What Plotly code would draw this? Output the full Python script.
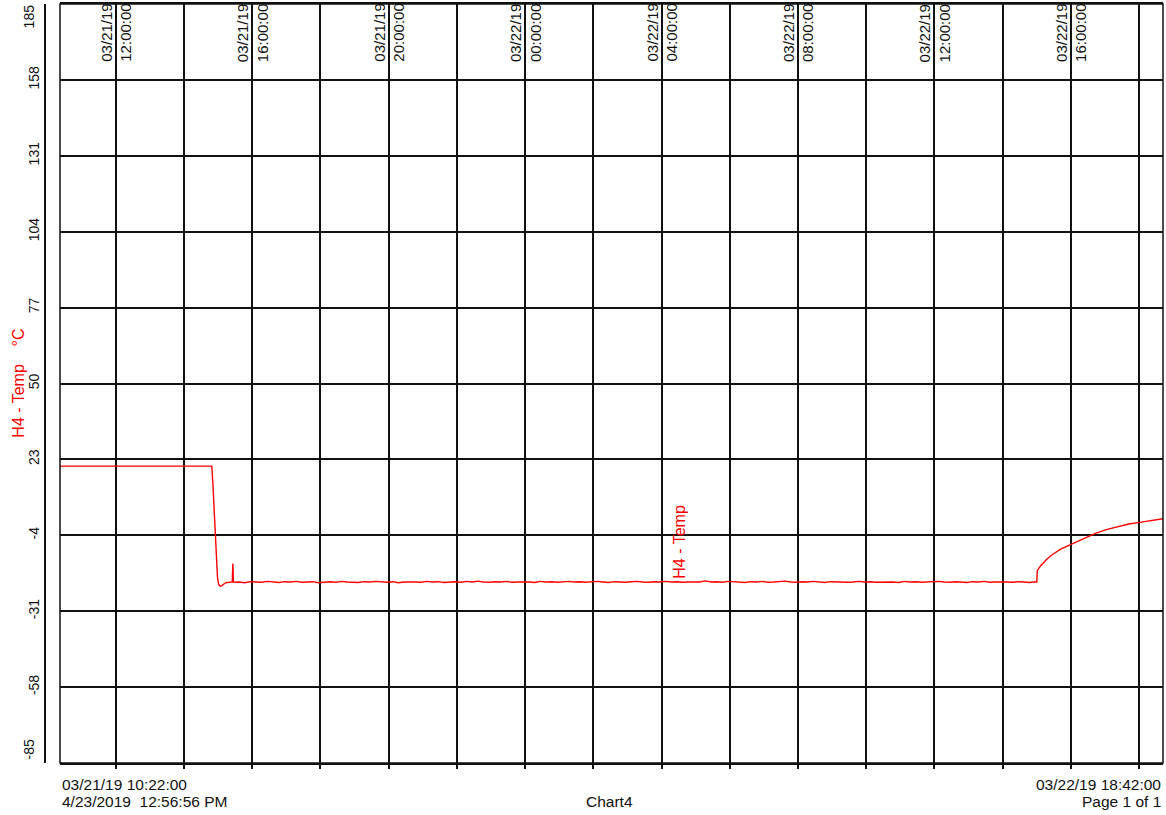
import pandas as pd
import plotly.graph_objects as go

# logger start / end of the chart window
start = pd.Timestamp("2019-03-21 10:22:00")
end = pd.Timestamp("2019-03-22 18:42:00")

# readings: minutes after start, temperature in degC
minutes_warm = [0, 60, 120, 180, 240, 267]
temps_warm = [20.6, 20.6, 20.5, 20.6, 20.6, 20.6]

minutes_drop = [269, 271, 273, 275, 277, 279, 282, 285, 288, 291, 295, 299, 302, 303, 304, 305, 308]
temps_drop = [14.0, 5.0, -6.0, -14.0, -19.0, -21.5, -22.1, -21.9, -21.3, -20.9, -20.8, -20.7,
              -20.7, -20.6, -14.0, -20.6, -20.7]

minutes_cold = [315, 325, 335, 345, 355, 365, 375, 385, 395, 405, 415, 425, 435, 445, 455,
                465, 475, 485, 495, 505, 515, 525, 535, 545, 555, 565, 575, 585, 595, 605,
                615, 625, 635, 645, 655, 665, 675, 685, 695, 705, 715, 725, 735, 745, 755,
                765, 775, 785, 795, 805, 815, 825, 835, 845, 855, 865, 875, 885, 895, 905,
                915, 925, 935, 945, 955, 965, 975, 985, 995, 1005, 1015, 1025, 1035, 1045, 1055,
                1065, 1075, 1085, 1095, 1105, 1115, 1125, 1135, 1145, 1155, 1165, 1175, 1185, 1195, 1205,
                1215, 1225, 1235, 1245, 1255, 1265, 1275, 1285, 1295, 1305, 1315, 1325, 1335, 1345, 1355,
                1365, 1375, 1385, 1395, 1405, 1415, 1425, 1435, 1445, 1455, 1465, 1475, 1485, 1495, 1505,
                1515, 1525, 1535, 1545, 1555, 1565, 1575, 1585, 1595, 1605, 1615, 1625, 1635, 1645, 1655,
                1665, 1675, 1685, 1695, 1705, 1712, 1718]
temps_cold = [-20.6, -20.9, -20.5, -20.6, -20.7, -20.4, -20.6, -20.8, -20.5, -20.6, -20.4, -20.7, -20.6, -20.5, -20.9,
              -20.6, -20.5, -20.7, -20.4, -20.6, -20.6, -20.8, -20.5, -20.6, -20.4, -20.6, -20.7, -20.5, -20.9, -20.6,
              -20.5, -20.6, -20.7, -20.4, -20.6, -20.5, -20.8, -20.6, -20.5, -20.7, -20.4, -20.6, -20.3, -20.6, -20.7,
              -20.5, -20.6, -20.4, -20.7, -20.6, -20.5, -20.6, -20.8, -20.4, -20.6, -20.5, -20.7, -20.6, -20.4, -20.6,
              -20.5, -20.7, -20.6, -20.4, -20.6, -20.8, -20.5, -20.6, -20.7, -20.5, -20.4, -20.6, -20.7, -20.5, -20.6,
              -20.4, -20.6, -20.5, -20.7, -20.6, -20.5, -20.6, -20.2, -20.6, -20.5, -20.7, -20.4, -20.6, -20.6, -20.8,
              -20.5, -20.6, -20.4, -20.7, -20.6, -20.5, -20.3, -20.6, -20.7, -20.5, -20.6, -20.4, -20.6, -20.8, -20.5,
              -20.6, -20.5, -20.7, -20.6, -20.4, -20.6, -20.5, -20.7, -20.6, -20.5, -20.6, -20.8, -20.4, -20.6, -20.5,
              -20.7, -20.6, -20.5, -20.4, -20.6, -20.7, -20.5, -20.6, -20.8, -20.5, -20.6, -20.4, -20.7, -20.6, -20.5,
              -20.6, -20.7, -20.5, -20.6, -20.8, -20.6, -20.6]

minutes_thaw = [1719, 1725, 1735, 1745, 1760, 1778, 1800, 1820, 1840, 1860, 1880, 1896, 1910, 1925, 1940]
temps_thaw = [-16.5, -14.8, -12.6, -10.9, -8.9, -7.2, -5.2, -3.4, -2.0, -1.0, 0.0, 0.5, 0.9, 1.4, 1.9]

y_ticks = [-85, -58, -31, -4, 23, 50, 77, 104, 131, 158, 185]
top_label_times = ["2019-03-21 12:00", "2019-03-21 16:00", "2019-03-21 20:00", "2019-03-22 00:00",
                   "2019-03-22 04:00", "2019-03-22 08:00", "2019-03-22 12:00", "2019-03-22 16:00"]

minutes = minutes_warm + minutes_drop + minutes_cold + minutes_thaw
temps = temps_warm + temps_drop + temps_cold + temps_thaw
times = start + pd.to_timedelta(minutes, unit="m")

FONT = "Liberation Sans, Arial, sans-serif"
INK = "#111111"

fig = go.Figure()
fig.add_trace(go.Scatter(x=times, y=temps, mode="lines",
                         line=dict(color="#ff0000", width=1.4), showlegend=False))

annotations = []
# date/time labels along the top, straddling every other gridline
for t in top_label_times:
    ts = pd.Timestamp(t)
    annotations.append(dict(
        x=ts, y=1, xref="x", yref="paper", xanchor="center", yanchor="top",
        text=ts.strftime("%m/%d/%y") + "<br>" + ts.strftime("%H:%M:%S"),
        textangle=-90, align="right", showarrow=False, yshift=2,
        font=dict(family=FONT, size=15, color=INK)))

# end tick labels of the y axis (kept inside the page)
annotations.append(dict(x=-0.005, y=1, xref="paper", yref="paper", xanchor="right", yanchor="top",
                        text=str(y_ticks[-1]), textangle=-90, showarrow=False, yshift=2,
                        font=dict(family=FONT, size=14, color=INK)))
annotations.append(dict(x=-0.005, y=0, xref="paper", yref="paper", xanchor="right", yanchor="bottom",
                        text=str(y_ticks[0]), textangle=-90, showarrow=False, yshift=2,
                        font=dict(family=FONT, size=14, color=INK)))

# axis title
annotations.append(dict(x=-0.024, y=0.5, xref="paper", yref="paper", xanchor="center", yanchor="middle",
                        text="H4 - Temp\u00a0\u00a0\u00a0\u00a0°C", textangle=-90, showarrow=False,
                        font=dict(family=FONT, size=16, color="#ff0000")))

# series label on the trace
annotations.append(dict(x=pd.Timestamp("2019-03-22 04:32"), y=-20.6, xref="x", yref="y",
                        xanchor="center", yanchor="bottom", text="H4 - Temp", textangle=-90,
                        showarrow=False, yshift=1,
                        font=dict(family=FONT, size=16, color="#ff0000")))

# footer
footer = [
    (0.0134, -0.028, "left", start.strftime("%m/%d/%y %H:%M:%S")),
    (0.0134, -0.051, "left", "4/23/2019\u00a0\u00a012:56:56 PM"),
    (0.505, -0.051, "center", "Chart4"),
    (1.0, -0.028, "right", end.strftime("%m/%d/%y %H:%M:%S")),
    (1.0, -0.051, "right", "Page 1 of 1"),
]
for fx, fy, anchor, txt in footer:
    annotations.append(dict(x=fx, y=fy, xref="paper", yref="paper", xanchor=anchor, yanchor="middle",
                            text=txt, showarrow=False, font=dict(family=FONT, size=15.5, color=INK)))

fig.update_layout(
    width=1166, height=815,
    margin=dict(l=45, r=3, t=4, b=52),
    paper_bgcolor="white", plot_bgcolor="white",
    showlegend=False,
    annotations=annotations,
    shapes=[dict(type="rect", xref="x domain", yref="y domain", x0=0, x1=1, y0=0, y1=1,
                 line=dict(color=INK, width=1.5), layer="above")],
    xaxis=dict(
        type="date", domain=[15 / 1118, 1], range=[start, end],
        tick0="2019-03-21 12:00:00", dtick=2 * 3600 * 1000,
        showgrid=True, gridcolor=INK, gridwidth=1.5,
        ticks="outside", ticklen=4, tickwidth=1.5, tickcolor=INK,
        showticklabels=False, zeroline=False,
        showline=True, mirror=True, linecolor=INK, linewidth=1.5,
        automargin=False,
    ),
    yaxis=dict(
        range=[-85, 185], anchor="free", position=0,
        tickmode="array", tickvals=y_ticks[1:-1], ticktext=[str(v) for v in y_ticks[1:-1]],
        tickangle=-90, tickfont=dict(family=FONT, size=14, color=INK),
        ticks="", ticklabelstandoff=0,
        showgrid=True, gridcolor=INK, gridwidth=1.5,
        zeroline=False, showline=True, linecolor=INK, linewidth=1.5,
        automargin=False,
    ),
)

# page margin off so the figure fills the window exactly
fig.write_html("out.html", config={"displayModeBar": False},
               post_script="document.body.style.margin='0';document.body.style.overflow='hidden';")
